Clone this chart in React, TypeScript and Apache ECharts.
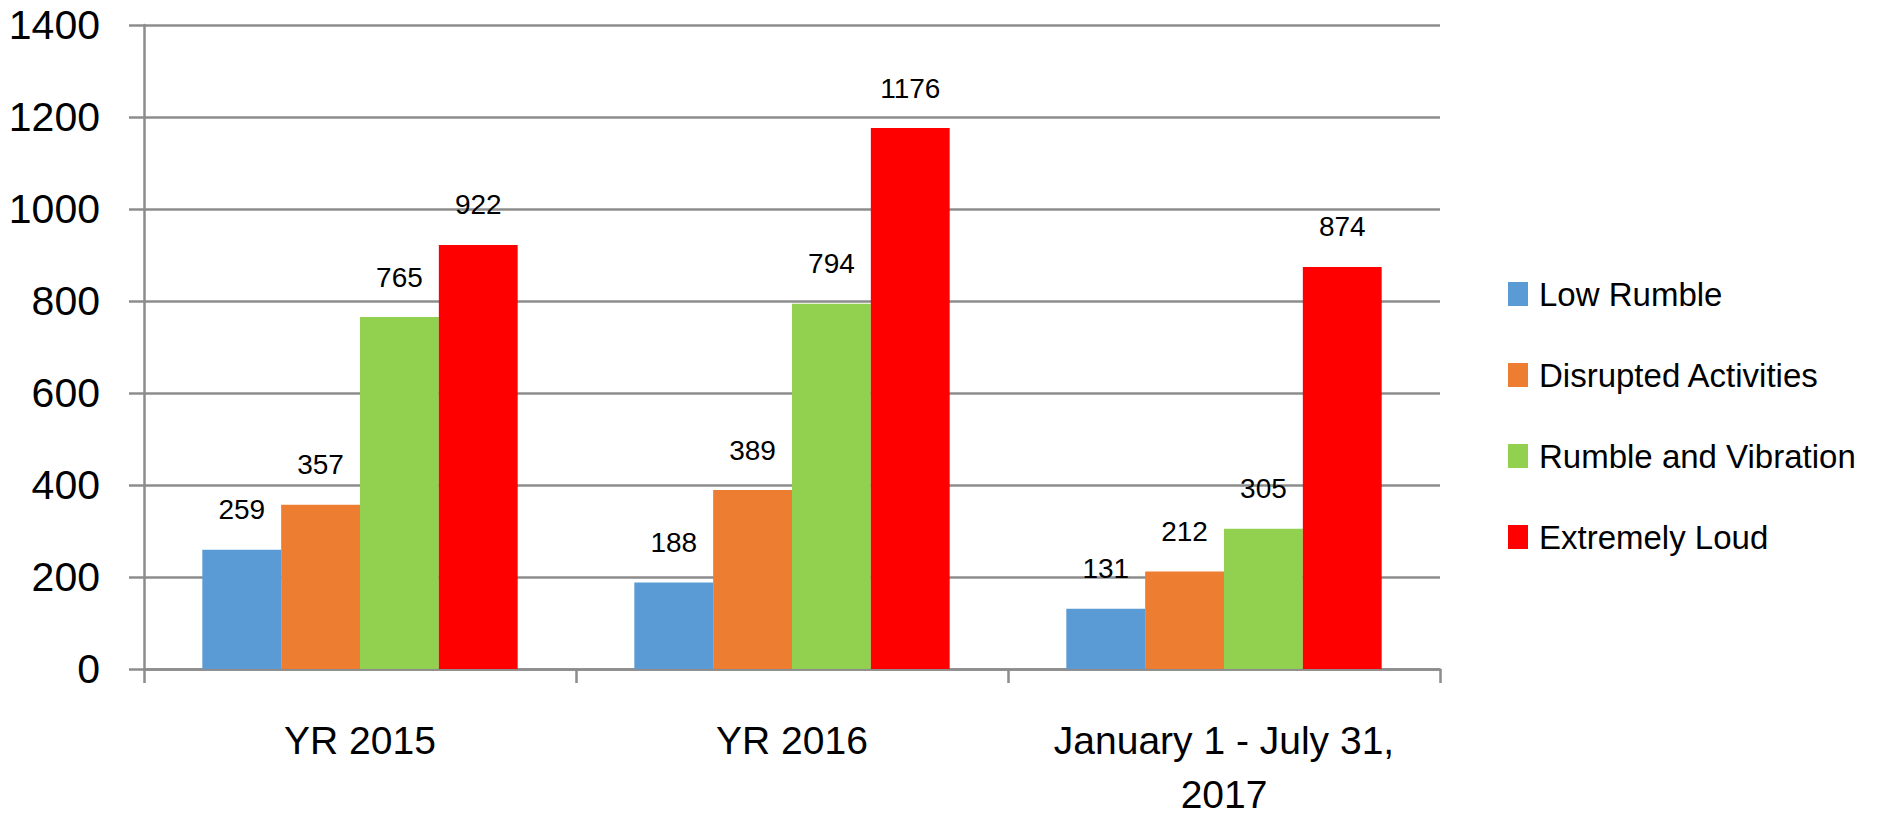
import React, { useEffect, useRef } from "react";
import * as echarts from "echarts";

const categories = ["YR 2015", "YR 2016", "January 1 - July 31,\n2017"];
const seriesNames = ["Low Rumble", "Disrupted Activities", "Rumble and Vibration", "Extremely Loud"];
const lowRumble = [259, 188, 131];
const disruptedActivities = [357, 389, 212];
const rumbleAndVibration = [765, 794, 305];
const extremelyLoud = [922, 1176, 874];
const colors = ["#5B9BD5", "#ED7D31", "#92D050", "#FF0000"];
const yTicks = { min: 0, max: 1400, interval: 200 };

const FONT = "'Liberation Sans', Arial, sans-serif";
const GRID_COLOR = "#8C8C8C";

export default function App() {
  const ref = useRef<HTMLDivElement>(null);
  useEffect(() => {
    if (!ref.current) return;
    const chart = echarts.init(ref.current, undefined, { renderer: "svg" });
    const values = [lowRumble, disruptedActivities, rumbleAndVibration, extremelyLoud];
    chart.setOption({
      animation: false,
      backgroundColor: "#FFFFFF",
      textStyle: { fontFamily: FONT },
      grid: {
        left: 144,
        right: 439,
        top: 25,
        bottom: 153,
        containLabel: false,
        outerBoundsMode: "none",
      },
      legend: {
        orient: "vertical",
        left: 1508,
        top: 274,
        padding: 0,
        itemWidth: 20,
        itemHeight: 24,
        itemGap: 41,
        icon: "rect",
        data: seriesNames,
        textStyle: { fontFamily: FONT, fontSize: 33, color: "#000000", lineHeight: 40, padding: [0, 0, 0, 6] },
      },
      xAxis: {
        type: "category",
        data: categories,
        axisLine: { show: true, lineStyle: { color: GRID_COLOR, width: 2.5 } },
        axisTick: { show: true, length: 14, interval: 0, alignWithLabel: false, lineStyle: { color: GRID_COLOR, width: 2.5 } },
        axisLabel: {
          fontFamily: FONT,
          fontSize: 39,
          color: "#000000",
          lineHeight: 54,
          margin: 44,
          interval: 0,
        },
      },
      yAxis: {
        type: "value",
        min: yTicks.min,
        max: yTicks.max,
        interval: yTicks.interval,
        axisLine: { show: true, lineStyle: { color: GRID_COLOR, width: 2.5 } },
        axisTick: { show: true, length: 15, lineStyle: { color: GRID_COLOR, width: 2.5 } },
        splitLine: { show: true, lineStyle: { color: GRID_COLOR, width: 2.5 } },
        axisLabel: {
          fontFamily: FONT,
          fontSize: 41,
          color: "#000000",
          margin: 44,
          formatter: (v: number) => String(v),
        },
      },
      series: seriesNames.map((name, i) => ({
        name,
        type: "bar",
        data: values[i],
        barGap: "0%",
        barCategoryGap: "27%",
        itemStyle: { color: colors[i] },
        label: {
          show: true,
          position: "top",
          distance: 26,
          fontFamily: FONT,
          fontSize: 28,
          lineHeight: 28,
          color: "#000000",
        },
      })),
    });
    return () => chart.dispose();
  }, []);
  return (
    <div
      ref={ref}
      style={{ position: "absolute", left: 0, top: 0, width: 1879, height: 822, background: "#FFFFFF" }}
    />
  );
}
